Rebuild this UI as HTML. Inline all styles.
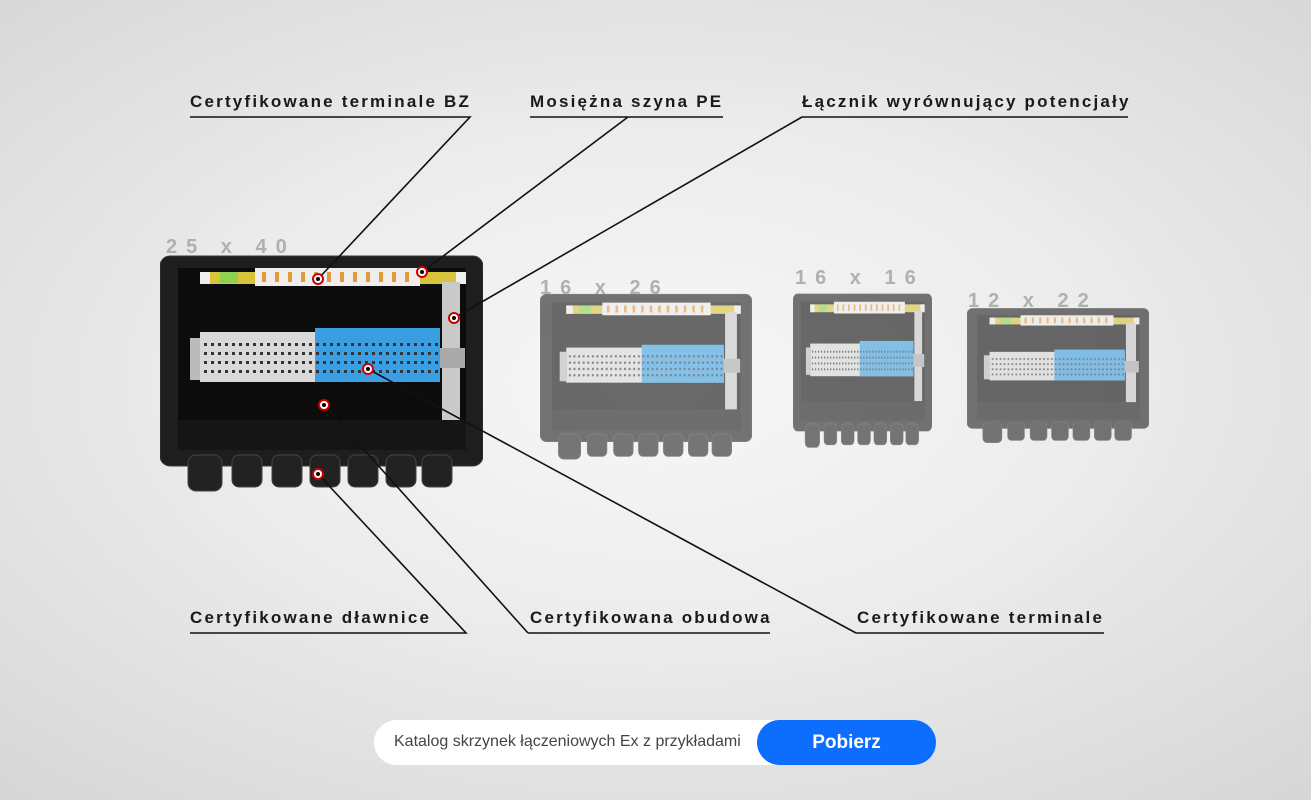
<!DOCTYPE html>
<html><head><meta charset="utf-8"><style>
html,body{margin:0;padding:0;width:1311px;height:800px;overflow:hidden;font-family:"Liberation Sans",sans-serif}
body{background:radial-gradient(ellipse 75% 70% at 50% 48%,#f7f7f7 0%,#ececec 45%,#d6d6d6 100%)}
.lbl{position:absolute;font-weight:bold;font-size:17px;letter-spacing:2.2px;color:#1a1a1a;white-space:nowrap}
.dim{position:absolute;font-size:20px;letter-spacing:9px;color:#b0b0b0;font-weight:bold}
.bar{position:absolute;left:374px;top:720px;width:562px;height:45px;background:#fff;border-radius:23px}
.bar span{position:absolute;left:20px;top:13px;font-size:16px;color:#444}
.btn{position:absolute;right:0;top:0;width:179px;height:45px;background:#0d6efd;border-radius:23px;color:#fff;font-weight:bold;font-size:19px;text-align:center;line-height:45px}
</style></head><body>
<svg width="1311" height="800" style="position:absolute;left:0;top:0">
<defs>
<pattern id="dots" width="7" height="9" patternUnits="userSpaceOnUse"><rect width="7" height="9" fill="none"/><rect x="2" y="3" width="3" height="3" fill="#333"/></pattern>
<symbol id="box" viewBox="0 0 323 245" preserveAspectRatio="none">
<rect x="0" y="6" width="323" height="210" rx="10" fill="#1e1e1e" stroke="#3a3a3a"/>
<rect x="18" y="18" width="288" height="182" fill="#0c0c0c"/>
<rect x="40" y="22" width="265" height="12" fill="#d8c33c"/>
<rect x="60" y="22" width="18" height="11" fill="#8fd14f"/>
<rect x="40" y="22" width="10" height="12" fill="#eee"/>
<rect x="296" y="22" width="10" height="12" fill="#eee"/>
<rect x="95" y="18" width="165" height="18" fill="#eee"/>
<g fill="#e59a3a"><rect x="102" y="22" width="4" height="10"/><rect x="115" y="22" width="4" height="10"/><rect x="128" y="22" width="4" height="10"/><rect x="141" y="22" width="4" height="10"/><rect x="154" y="22" width="4" height="10"/><rect x="167" y="22" width="4" height="10"/><rect x="180" y="22" width="4" height="10"/><rect x="193" y="22" width="4" height="10"/><rect x="206" y="22" width="4" height="10"/><rect x="219" y="22" width="4" height="10"/><rect x="232" y="22" width="4" height="10"/><rect x="245" y="22" width="4" height="10"/></g>
<rect x="282" y="32" width="18" height="150" fill="#c9c9c9"/>
<rect x="30" y="88" width="10" height="42" fill="#bbb"/>
<rect x="40" y="82" width="240" height="50" fill="#d9d9d9"/>
<rect x="155" y="78" width="125" height="54" fill="#3a9fe2"/>
<rect x="40" y="92" width="240" height="35" fill="url(#dots)"/>
<rect x="280" y="98" width="25" height="20" fill="#aaa"/>
<rect x="18" y="170" width="288" height="30" fill="#151515"/>
<g fill="#222" stroke="#444"><rect x="28" y="205" width="34" height="36" rx="8"/><rect x="72" y="205" width="30" height="32" rx="7"/><rect x="112" y="205" width="30" height="32" rx="7"/><rect x="150" y="205" width="30" height="32" rx="7"/><rect x="188" y="205" width="30" height="32" rx="7"/><rect x="226" y="205" width="30" height="32" rx="7"/><rect x="262" y="205" width="30" height="32" rx="7"/></g>
</symbol>
</defs>
<use href="#box" x="160" y="250" width="323" height="245"/>
<g opacity="0.6">
<use href="#box" x="540" y="290" width="212" height="172"/>
<use href="#box" x="793" y="290" width="139" height="160"/>
<use href="#box" x="967" y="305" width="182" height="140"/>
</g>
<g stroke="#111" stroke-width="1.6" fill="none">
<path d="M190 117H470L318 279"/>
<path d="M530 117H723M628 117L422 272"/>
<path d="M802 117H1128M802 117L454 318"/>
<path d="M190 633H466L318 474"/>
<path d="M528 633H770M528 633L324 405"/>
<path d="M856 633H1104M856 633L368 369"/>
</g>
<g fill="#fff" stroke="#c00" stroke-width="2">
<circle cx="318" cy="279" r="5"/><circle cx="422" cy="272" r="5"/><circle cx="454" cy="318" r="5"/><circle cx="368" cy="369" r="5"/><circle cx="324" cy="405" r="5"/><circle cx="318" cy="474" r="5"/>
</g>
<g fill="#000"><circle cx="318" cy="279" r="2"/><circle cx="422" cy="272" r="2"/><circle cx="454" cy="318" r="2"/><circle cx="368" cy="369" r="2"/><circle cx="324" cy="405" r="2"/><circle cx="318" cy="474" r="2"/></g>
</svg>
<div class="lbl" style="left:190px;top:92px">Certyfikowane terminale BZ</div>
<div class="lbl" style="left:530px;top:92px">Mosiężna szyna PE</div>
<div class="lbl" style="left:802px;top:92px">Łącznik wyrównujący potencjały</div>
<div class="lbl" style="left:190px;top:608px">Certyfikowane dławnice</div>
<div class="lbl" style="left:530px;top:608px">Certyfikowana obudowa</div>
<div class="lbl" style="left:857px;top:608px">Certyfikowane terminale</div>
<div class="dim" style="left:166px;top:236px">25 x 40</div>
<div class="dim" style="left:540px;top:277px">16 x 26</div>
<div class="dim" style="left:795px;top:267px">16 x 16</div>
<div class="dim" style="left:968px;top:290px">12 x 22</div>
<div class="bar"><span>Katalog skrzynek łączeniowych Ex z przykładami</span><div class="btn">Pobierz</div></div>
</body></html>
